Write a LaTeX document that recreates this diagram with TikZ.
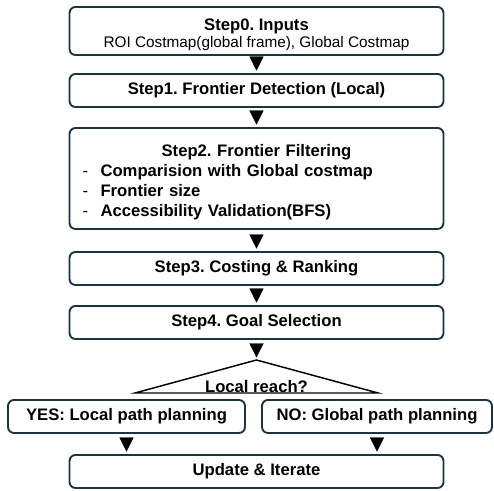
\documentclass[tikz,border=0pt]{standalone}
\usepackage{fontspec}
\setmainfont{Liberation Sans}
\usepackage{xcolor}
\usetikzlibrary{arrows.meta,positioning,calc}
\definecolor{boxline}{HTML}{1B3441}
\frenchspacing

\tikzset{
  stepbox/.style={draw=boxline, line width=1.4pt, rounded corners=4.5pt, fill=white,
    minimum width=280.5pt, minimum height=24.75pt, inner sep=0pt,
    font=\fontsize{12.5}{15}\selectfont\bfseries},
  flow/.style={line width=0.2pt, -{Triangle[length=10.5pt,width=10.5pt]},
    shorten <=#1, shorten >=1.9pt},
  flow/.default=3pt,
  decision/.style={draw=black, line width=1.1pt, line join=miter},
}

\begin{document}
\begin{tikzpicture}[x=0.75pt, y=-0.75pt]
    \useasboundingbox (0,0) rectangle (494,491);

    % Steps
    \node[stepbox, minimum height=36pt] (s0) at (256.5,31)
        {\begin{tabular}{@{}c@{}}\rule{0pt}{16.5pt}Step0. Inputs\\[-2.25pt]
         {\mdseries\fontsize{11.5}{14}\selectfont ROI Costmap(global frame), Global Costmap}\end{tabular}};
    \node[stepbox] (s1) at (256.5,90.5) {Step1. Frontier Detection (Local)};
    \node[stepbox, minimum height=75.75pt, text width=261pt, align=left, text height=15.2pt] (s2) at (256.5,178.5)
        {\makebox[\linewidth][c]{Step2. Frontier Filtering}\\
         \makebox[13.5pt][l]{\mdseries-}Comparision with Global costmap\\
         \makebox[13.5pt][l]{\mdseries-}Frontier size\\
         \makebox[13.5pt][l]{\mdseries-}Accessibility Validation(BFS)};
    \node[stepbox] (s3) at (256.5,268.5) {Step3. Costing \& Ranking};
    \node[stepbox] (s4) at (256.5,322.5) {Step4. Goal Selection};

    % Decision
    \coordinate (dtop) at (256.5,360);
    \coordinate (dl) at (135,393);
    \coordinate (dr) at (378,393);
    \draw[decision] (dtop) -- (dl) -- (dr) -- cycle;
    \node[anchor=base, inner sep=0pt, font=\fontsize{12.5}{15}\selectfont\bfseries] (dq) at (256.5,392.5) {Local reach?};

    % Branches
    \node[stepbox, minimum width=177.75pt] (yes) at (126.5,416.5) {YES: Local path planning};
    \node[stepbox, minimum width=172.5pt] (no) at (377,416.5) {NO: Global path planning};
    \node[stepbox] (upd) at (256.5,471.5) {Update \& Iterate};

    % Arrows (triangle heads only)
    \draw[flow=3.2pt] (s0) -- (s1);
    \draw[flow=4.6pt] (s1) -- (s2);
    \draw[flow=6.1pt] (s2) -- (s3);
    \draw[flow=4.6pt] (s3) -- (s4);
    \draw[flow=3.1pt] (s4) -- (dtop);
    \draw[flow=5.3pt] (yes) -- (yes |- upd.north);
    \draw[flow=5.3pt] (no) -- (no |- upd.north);
\end{tikzpicture}
\end{document}
